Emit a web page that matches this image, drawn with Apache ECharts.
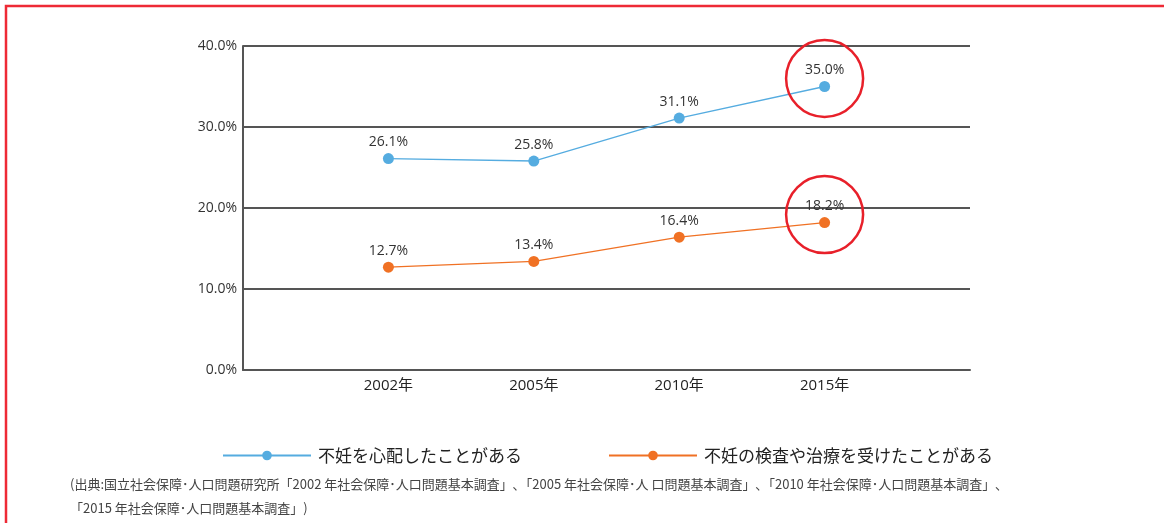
<!DOCTYPE html>
<html>
<head>
<meta charset="utf-8">
<script src="https://cdn.jsdelivr.net/npm/echarts@6/dist/echarts.min.js"></script>
<style>
  html, body { margin: 0; padding: 0; background: #fff; }
  #main { width: 1164px; height: 523px; }
</style>
</head>
<body>
<div id="main"></div>
<script>
// data
var years = ['2002年', '2005年', '2010年', '2015年'];
var worried = [26.1, 25.8, 31.1, 35.0];
var treated = [12.7, 13.4, 16.4, 18.2];
var seriesNames = ['不妊を心配したことがある', '不妊の検査や治療を受けたことがある'];
var yTicks = [0, 10, 20, 30, 40];
var sourceText = '(出典:国立社会保障･人口問題研究所「2002 年社会保障･人口問題基本調査」､「2005 年社会保障･人 口問題基本調査」､「2010 年社会保障･人口問題基本調査」､\n「2015 年社会保障･人口問題基本調査」)';

var blue = '#55ace0';
var orange = '#f07124';
var circleRed = '#e8202a';
var font = '"Open Sans", "Noto Sans CJK JP", sans-serif';
var cjk = '"Noto Sans CJK JP", sans-serif';

// empty slot at each end so the points sit one step in from the axis edges
var axisCats = [''].concat(years).concat(['']);
function pad(arr) { return [null].concat(arr).concat([null]); }

var myChart = echarts.init(document.getElementById('main'));

function highlight(val) {
    // red ring around the last point, centred a bit above it
    return {
        symbol: 'circle',
        symbolSize: 77,
        symbolOffset: [0, -8],
        coord: [years[years.length - 1], val],
        itemStyle: { color: 'rgba(0,0,0,0)', borderColor: circleRed, borderWidth: 2.5 },
        label: { show: false }
    };
}

function lineSeries(name, data, color) {
    return {
        name: name,
        type: 'line',
        data: pad(data),
        symbol: 'circle',
        symbolSize: 11,
        lineStyle: { color: color, width: 1.3 },
        itemStyle: { color: color },
        label: {
            show: true,
            position: 'top',
            distance: 4,
            color: '#333',
            fontSize: 14,
            fontFamily: font,
            formatter: function (p) { return p.value.toFixed(1) + '%'; }
        },
        markPoint: {
            silent: true,
            data: [highlight(data[data.length - 1])]
        },
        z: 3
    };
}

var option = {
    backgroundColor: '#fff',
    animation: false,
    grid: { left: 243, right: 194, top: 46, bottom: 153 },
    legend: {
        top: 442,
        left: 217,
        itemGap: 86,
        itemWidth: 88,
        itemHeight: 12,
        lineStyle: { width: 2 },
        textStyle: { color: '#222', fontSize: 17, fontFamily: cjk, padding: [0, 0, 0, 2] },
        data: seriesNames
    },
    xAxis: {
        type: 'category',
        data: axisCats,
        boundaryGap: false,
        axisLine: { lineStyle: { color: '#555', width: 2 } },
        axisTick: { show: false },
        axisLabel: { color: '#222', fontSize: 15, fontFamily: font, margin: 8 }
    },
    yAxis: {
        type: 'value',
        min: yTicks[0],
        max: yTicks[yTicks.length - 1],
        interval: 10,
        axisLine: { show: true, lineStyle: { color: '#555', width: 2 } },
        axisTick: { show: false },
        axisLabel: {
            color: '#333', fontSize: 14, fontFamily: font, margin: 6,
            formatter: function (v) { return v.toFixed(1) + '%'; }
        },
        splitLine: { lineStyle: { color: '#555', width: 2 } }
    },
    series: [
        lineSeries(seriesNames[0], worried, blue),
        lineSeries(seriesNames[1], treated, orange)
    ],
    graphic: [
        {
            type: 'polyline',
            shape: { points: [[6, 530], [6, 6], [1170, 6]] },
            style: { stroke: '#ee2a35', lineWidth: 2.5, fill: null }
        },
        {
            type: 'text',
            left: 70,
            top: 472,
            style: {
                text: sourceText,
                fill: '#444',
                fontSize: 13,
                lineHeight: 24,
                fontFamily: cjk
            }
        }
    ]
};

myChart.setOption(option);
</script>
</body>
</html>
